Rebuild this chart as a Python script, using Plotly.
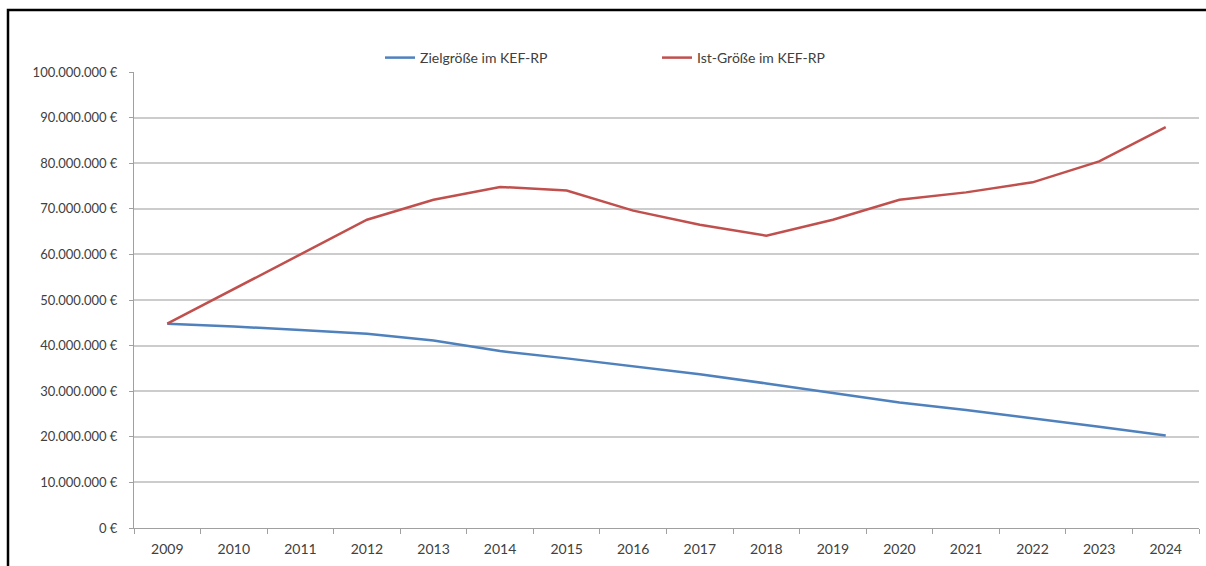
import plotly.graph_objects as go

years = [str(y) for y in range(2009, 2025)]
ziel = [44.8, 44.2, 43.4, 42.6, 41.1, 38.8, 37.2, 35.4, 33.7, 31.7, 29.6, 27.5, 25.9, 24.1, 22.2, 20.3]
ist = [44.8, 52.4, 60.0, 67.6, 72.0, 74.8, 74.0, 69.6, 66.5, 64.1, 67.6, 72.0, 73.6, 75.8, 80.4, 87.9]
ziel_eur = [v * 1e6 for v in ziel]
ist_eur = [v * 1e6 for v in ist]
series_names = ["Zielgröße im KEF-RP", "Ist-Größe im KEF-RP"]
colors = ["#4f81bd", "#c0504d"]
ytick_vals = [i * 10_000_000 for i in range(11)]
ytick_text = [f"{v:,}".replace(",", ".") + "\u202f€" for v in ytick_vals]

W, H = 1206, 566
L, R, T, B = 134, 7, 72, 38
pw, ph = W - L - R, H - T - B

fig = go.Figure()
for name, vals, col in zip(series_names, [ziel_eur, ist_eur], colors):
    fig.add_trace(go.Scatter(x=years, y=vals, mode="lines", name=name,
                             line=dict(color=col, width=2.5)))

font = dict(family="Lato, 'Open Sans', sans-serif", size=14, color="#404040")
yfont = dict(family="Lato, 'Open Sans', sans-serif", size=13, color="#404040")

fig.update_layout(
    width=W, height=H,
    margin=dict(l=L, r=R, t=T, b=B),
    paper_bgcolor="white", plot_bgcolor="white",
    font=font,
    showlegend=True,
    legend=dict(orientation="h", x=(380 - L) / pw, y=1.0 + 14 / ph,
                xanchor="left", yanchor="middle",
                entrywidth=232, entrywidthmode="pixels",
                itemwidth=30, font=font, bgcolor="rgba(0,0,0,0)"),
    xaxis=dict(type="category", tickson="boundaries", ticks="outside",
               ticklen=5, tickcolor="#a0a0a0", showline=True,
               linecolor="#a0a0a0", linewidth=1, showgrid=False,
               tickfont=font, range=[-0.5, 15.5], ticklabelstandoff=8),
    yaxis=dict(range=[0, 100_000_000], tickvals=ytick_vals,
               ticktext=ytick_text, ticks="outside",
               ticklen=4, tickcolor="#a0a0a0", showline=True,
               linecolor="#a0a0a0", linewidth=1, showgrid=True,
               gridcolor="#cccccc", gridwidth=1.5, zeroline=False,
               tickfont=yfont, ticklabelstandoff=9),
    shapes=[dict(type="rect", xref="paper", yref="paper",
                 x0=(8 - L) / pw, x1=(W + 10 - L) / pw,
                 y0=-(B + 20) / ph, y1=1 + (T - 10) / ph,
                 line=dict(color="black", width=2.5), layer="above")],
)

fig.write_html("out.html")
